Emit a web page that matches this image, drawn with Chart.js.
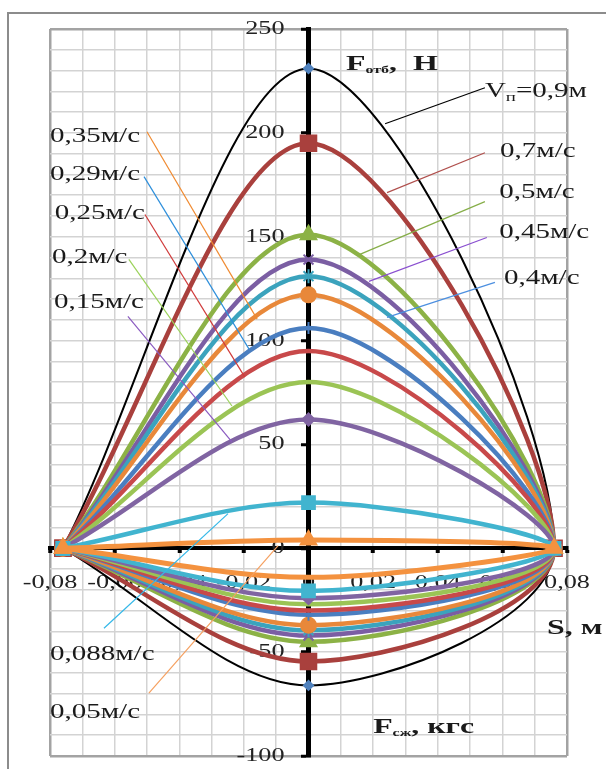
<!DOCTYPE html>
<html><head><meta charset="utf-8">
<script src="https://cdn.jsdelivr.net/npm/chart.js@4.4.1/dist/chart.umd.min.js"></script>
<style>
html,body{margin:0;padding:0;background:#fff;overflow:hidden}
#wrap{position:relative;width:606px;height:769px;overflow:hidden;background:#fff}
#frame{position:absolute;left:7px;top:12px;width:640px;height:800px;border-left:2px solid #8c8c8c;border-top:2px solid #8c8c8c}
#c{position:absolute;left:0;top:0}
</style></head><body>
<div id="wrap"><div id="frame"></div><canvas id="c" width="606" height="769"></canvas></div>
<script>
// ---- data ----
const speeds = ['0,9','0,7','0,5','0,45','0,4','0,35','0,29','0,25','0,2','0,15','0,088','0,05'];
const peakForce = [231, 195, 151, 139, 131, 122, 106, 95, 80, 62, 22, 4];          // F отб at S = 0, Н
const minForce  = [-66, -54.5, -45, -42, -39.5, -37, -32, -30, -27, -24, -20.5, -14]; // F сж at S = 0
const strokeS   = [-0.076, 0, 0.076, 0, -0.076];   // path: left end -> top -> right end -> bottom -> left end
const xTickValues = [-0.08, -0.06, -0.04, -0.02, 0, 0.02, 0.04, 0.06, 0.08];
const xTickLabels = ['-0,08', '-0,06', '-0,04', '-0,02', '0', '0,02', '0,04', '0,06', '0,08'];
const yTickValues = [-100, -50, 0, 50, 100, 150, 200, 250];
const yTickLabels = ['-100', '-50', '0', '50', '100', '150', '200', '250'];

// ---- styles ----
const seriesStyle = [
  {color:'#000000', w:2,   m:'rectRot',  r:4.5, fill:'#4F81BD'},
  {color:'#A9403D', w:4.5, m:'rect',     r:11,  fill:'#A9403D'},
  {color:'#8CB246', w:4.5, m:'triangle', r:9,   fill:'#8CB246'},
  {color:'#7B5EA3', w:4.5, m:'crossRot', r:7,   fill:'#7B5EA3'},
  {color:'#3BA3BD', w:4.5, m:'star',     r:7,   fill:'#3BA3BD'},
  {color:'#E8883A', w:4.5, m:'circle',   r:7.5, fill:'#E8883A'},
  {color:'#4A7EC0', w:4.5, m:'cross',    r:6,   fill:'#4A7EC0'},
  {color:'#C8494A', w:4.5, m:'line',     r:6,   fill:'#C8494A'},
  {color:'#9BC455', w:4.5, m:'line',     r:4,   fill:'#9BC455'},
  {color:'#8064A2', w:4.5, m:'rectRot',  r:6,   fill:'#8064A2'},
  {color:'#41B4CF', w:4.5, m:'rect',     r:9,   fill:'#41B4CF'},
  {color:'#F4923F', w:5,   m:'triangle', r:9,   fill:'#F4923F', noBottomMarker:true}
];

const datasets = speeds.map((s, i) => {
  const ys = [0, peakForce[i], 0, minForce[i], 0];
  const st = seriesStyle[i];
  return {
    label: s,
    data: strokeS.map((x, k) => ({x: x, y: ys[k]})),
    showLine: true,
    borderColor: st.color,
    borderWidth: st.w,
    tension: 0.33,
    fill: false,
    pointStyle: st.m,
    pointRadius: st.noBottomMarker ? strokeS.map((x, k) => (k === 3 ? 0 : st.r)) : st.r,
    pointBackgroundColor: st.fill,
    pointBorderColor: st.fill,
    pointBorderWidth: 2,
    order: speeds.length - i
  };
});

// ---- annotations (positions in data units) ----
const R = '"Liberation Serif", "Times New Roman", serif';
const f20 = '20px ' + R, f13 = '13px ' + R, b22 = 'bold 22px ' + R, b11 = 'bold 11px ' + R;
const notes = [
  {parts:[{t:'V',f:f20},{t:'п',f:f13,dy:4},{t:'=0,9м',f:f20}], x:0.0546, y:217.3, line:[0.0546,221.7,0.0237,204.4], c:'#000000'},
  {parts:[{t:'0,7м/с',f:f20}],  x:0.0593, y:188.5, line:[0.0546,190.4,0.0243,171.2], c:'#B0504D'},
  {parts:[{t:'0,5м/с',f:f20}],  x:0.0590, y:168.4, line:[0.0546,166.9,0.0159,141.5], c:'#86AE48'},
  {parts:[{t:'0,45м/с',f:f20}], x:0.0590, y:149.2, line:[0.0552,149.6,0.0187,128.5], c:'#8A4FD0'},
  {parts:[{t:'0,4м/с',f:f20}],  x:0.0605, y:127.1, line:[0.0577,128.0,0.0243,111.2], c:'#4C8FE0'},
  {parts:[{t:'0,35м/с',f:f20}], x:-0.0800, y:195.7, line:[-0.0500,200.5,-0.0159,110.3], c:'#F08A30'},
  {parts:[{t:'0,29м/с',f:f20}], x:-0.0800, y:177.5, line:[-0.0509,178.9,-0.0184,95.9], c:'#2E8FDB'},
  {parts:[{t:'0,25м/с',f:f20}], x:-0.0785, y:158.3, line:[-0.0506,160.7,-0.0197,82.4], c:'#D03A3A'},
  {parts:[{t:'0,2м/с',f:f20}],  x:-0.0794, y:137.2, line:[-0.0556,139.1,-0.0237,68.5], c:'#9BD25A'},
  {parts:[{t:'0,15м/с',f:f20}], x:-0.0788, y:115.6, line:[-0.0559,111.7,-0.0237,51.2], c:'#8A5AC0'},
  {parts:[{t:'0,088м/с',f:f20}],x:-0.0800, y:-53.9, line:[-0.0633,-38.5,-0.0249,16.7], c:'#35B8E8'},
  {parts:[{t:'0,05м/с',f:f20}], x:-0.0800, y:-81.8, line:[-0.0494,-69.7,-0.0094,1.3], c:'#F5A060'},
  {parts:[{t:'S, м',f:b22}], x:0.0738, y:-41.4, c:'#000000'},
  {parts:[{t:'F',f:b22},{t:'отб',f:b11,dy:3},{t:',  Н',f:b22}], x:0.0116, y:230.3, c:'#000000'},
  {parts:[{t:'F',f:b22},{t:'сж',f:b11,dy:3},{t:', кгс',f:b22}], x:0.0200, y:-89.0, c:'#000000'}
];
const textStretch = 1.45;
const tickStretch = 1.38;

// horizontally stretched glyphs for the axis tick labels (the reference text is widened)
function installStretch(ctx) {
  if (ctx._stretchInstalled) return;
  ctx._stretchInstalled = true;
  ctx._stretch = 1;
  const orig = ctx.fillText;
  ctx.fillText = function (text, x, y, maxWidth) {
    if (this._stretch === 1) return orig.call(this, text, x, y, maxWidth);
    this.save();
    this.translate(x, y);
    this.scale(this._stretch, 1);
    orig.call(this, text, 0, 0, maxWidth);
    this.restore();
  };
}

const notePlugin = {
  id: 'notes',
  beforeDraw(chart) { installStretch(chart.ctx); chart.ctx._stretch = tickStretch; },
  beforeDatasetsDraw(chart) { chart.ctx._stretch = 1; },
  afterDraw(chart) {
    const ctx = chart.ctx, xs = chart.scales.x, ys = chart.scales.y;
    ctx._stretch = 1;
    ctx.save();
    for (const n of notes) {
      if (!n.line) continue;
      ctx.beginPath();
      ctx.strokeStyle = n.c;
      ctx.lineWidth = 1.2;
      ctx.moveTo(xs.getPixelForValue(n.line[0]), ys.getPixelForValue(n.line[1]));
      ctx.lineTo(xs.getPixelForValue(n.line[2]), ys.getPixelForValue(n.line[3]));
      ctx.stroke();
    }
    for (const n of notes) {
      ctx.save();
      ctx.translate(xs.getPixelForValue(n.x), ys.getPixelForValue(n.y));
      ctx.scale(textStretch, 1);
      ctx.fillStyle = '#1a1a1a';
      ctx.textBaseline = 'alphabetic';
      ctx.textAlign = 'left';
      let cx = 0;
      for (const p of n.parts) {
        ctx.font = p.f;
        ctx.fillText(p.t, cx, p.dy || 0);
        cx += ctx.measureText(p.t).width;
      }
      ctx.restore();
    }
    ctx.restore();
  }
};

function near(a, b) { return Math.abs(a - b) < 1e-6; }
function zeroPad(s) { s.paddingLeft = 0; s.paddingRight = 0; s.paddingTop = 0; s.paddingBottom = 0; }
const tickFont = {family: R, size: 19};

new Chart(document.getElementById('c'), {
  type: 'scatter',
  data: {datasets: datasets},
  plugins: [notePlugin],
  options: {
    responsive: false,
    animation: false,
    devicePixelRatio: 1,
    layout: {padding: {left: 50, top: 29, right: 39, bottom: 11}},
    plugins: {legend: {display: false}, tooltip: {enabled: false}},
    scales: {
      x: {
        type: 'linear', position: {y: 0}, min: -0.08, max: 0.08,
        afterFit: zeroPad,
        ticks: {
          stepSize: 0.01, autoSkip: false, maxRotation: 0, minRotation: 0, padding: 20,
          font: tickFont, color: '#222',
          callback: (v) => { const k = xTickValues.findIndex(t => near(t, v)); return k >= 0 ? xTickLabels[k] : ''; }
        },
        grid: {
          color: (c) => (near(c.tick.value, -0.08) || near(c.tick.value, 0.08)) ? '#a3a3a3' : '#d3d3d3',
          lineWidth: (c) => (near(c.tick.value, -0.08) || near(c.tick.value, 0.08)) ? 2.5 : 1.5,
          tickColor: (c) => xTickValues.some(t => near(t, c.tick.value)) ? '#000' : 'rgba(0,0,0,0)',
          tickLength: 3, tickWidth: 4
        },
        border: {display: true, color: '#000', width: 4}
      },
      y: {
        type: 'linear', position: 'center', min: -100, max: 250,
        afterFit: zeroPad,
        ticks: {
          stepSize: 10, autoSkip: false, padding: 19,
          font: tickFont, color: '#222',
          callback: (v) => { const k = yTickValues.findIndex(t => near(t, v)); return k >= 0 ? yTickLabels[k] : ''; }
        },
        grid: {
          color: (c) => (near(c.tick.value, -100) || near(c.tick.value, 250)) ? '#a3a3a3' : '#d3d3d3',
          lineWidth: (c) => (near(c.tick.value, -100) || near(c.tick.value, 250)) ? 2.5 : 1.5,
          tickColor: (c) => yTickValues.some(t => near(t, c.tick.value)) ? '#000' : 'rgba(0,0,0,0)',
          tickLength: 5, tickWidth: 3
        },
        border: {display: true, color: '#000', width: 5}
      }
    }
  }
});
</script>
</body></html>
